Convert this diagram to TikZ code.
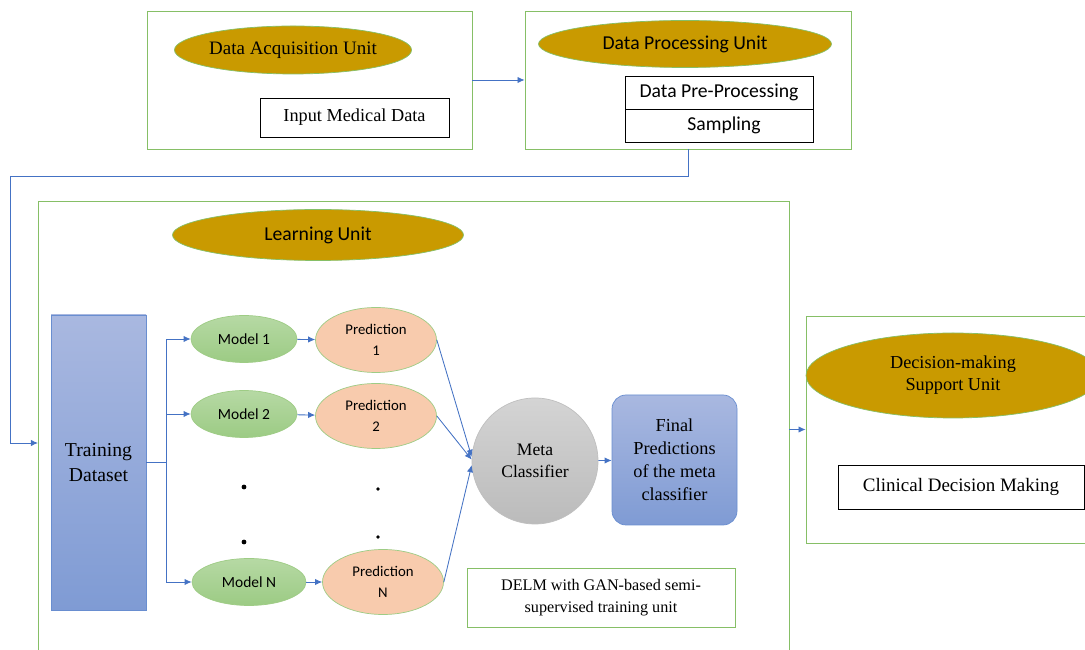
\documentclass[tikz,border=0pt]{standalone}
\usepackage{fontspec}
\setmainfont{Liberation Serif}
\newfontfamily\calibri{Carlito}
\usetikzlibrary{shapes.geometric,arrows.meta}

\definecolor{unitgreen}{HTML}{86BF66}
\definecolor{unitgold}{HTML}{C99A00}
\definecolor{linkblue}{HTML}{4472C4}
\definecolor{peach}{HTML}{F8CBAD}
\definecolor{modeltop}{HTML}{B6D9A4}
\definecolor{modelbot}{HTML}{9CCB84}
\definecolor{bluetop}{HTML}{A9B8E0}
\definecolor{bluebot}{HTML}{7F9BD4}
\definecolor{graytop}{HTML}{D4D4D4}
\definecolor{graybot}{HTML}{BBBBBB}

\tikzset{
  unitbox/.style={draw=unitgreen,line width=.6pt,fill=white,minimum width=#1},
  unittitle/.style={ellipse,draw=unitgreen,line width=.5pt,fill=unitgold,inner sep=0pt},
  plainbox/.style={draw=black,line width=.6pt,fill=white,inner sep=0pt},
  modelnode/.style={ellipse,draw=unitgreen!80,line width=.5pt,top color=modeltop,bottom color=modelbot,
    minimum height=1.175cm,inner sep=0pt,font=\calibri\fontsize{11}{13}\selectfont},
  prednode/.style={ellipse,draw=unitgreen!80,line width=.5pt,fill=peach,minimum width=3.025cm,
    minimum height=1.625cm,inner sep=0pt,align=center,font=\calibri\fontsize{10.5}{15}\selectfont},
  bluefill/.style={draw=linkblue!80,line width=.5pt,top color=bluetop,bottom color=bluebot},
  link/.style={draw=linkblue,line width=.6pt,-{Latex[length=5pt,width=4.5pt]}},
  pathline/.style={draw=linkblue,line width=.6pt},
}

\begin{document}
\begin{tikzpicture}
\useasboundingbox (0,0) rectangle (27.125,16.25);

% data acquisition unit
\node[unitbox=8.125cm,minimum height=3.45cm] (acq) at (7.7375,14.25) {};
\node[unittitle,minimum width=5.325cm,minimum height=1.2cm,font=\fontsize{13.5}{15}\selectfont] (acqtitle) at (7.325,15.0) {Data Acquisition Unit};
\node[plainbox,minimum width=4.725cm,minimum height=.975cm,font=\fontsize{13}{15}\selectfont] (input) at (8.8625,13.3125) {Input Medical Data};

% data processing unit
\node[unitbox=8.15cm,minimum height=3.45cm] (proc) at (17.2,14.25) {};
\node[unittitle,minimum width=7.325cm,minimum height=1.175cm,font=\calibri\fontsize{14}{16}\selectfont] (proctitle) at (17.125,15.15) {Data Processing Unit};
\node[plainbox,minimum width=4.7cm,minimum height=.825cm,font=\calibri\fontsize{14}{16}\selectfont] (prep) at (17.975,13.9375) {Data Pre-Processing};
\node[plainbox,minimum width=4.7cm,minimum height=.825cm,font=\calibri\fontsize{14}{16}\selectfont] (samp) at (17.975,13.1125) {\hspace{2.5mm}Sampling};

\draw[link] (acq.east) -- (proc.west);

% learning unit
\node[unitbox=18.775cm,minimum height=11.475cm] (learn) at (10.3375,5.4875) {};
\node[unittitle,minimum width=7.275cm,minimum height=1.275cm,font=\calibri\fontsize{14}{16}\selectfont] (learntitle) at (7.95,10.375) {Learning Unit};

\coordinate (turn) at (0.25,11.85);
\coordinate (learnin) at (0.95,5.175);
\draw[pathline] (proc.south) |- (turn);
\draw[link] (turn) |- (learnin);

\node[bluefill,minimum width=2.375cm,minimum height=7.375cm,align=center,inner sep=0pt,
  font=\fontsize{14}{17.5}\selectfont] (train) at (2.4625,4.6875) {Training\\Dataset};

\node[modelnode,minimum width=2.65cm] (m1) at (6.1,7.775) {Model 1};
\node[modelnode,minimum width=2.65cm] (m2) at (6.1,5.9) {Model 2};
\node[modelnode,minimum width=2.85cm] (mN) at (6.225,1.7) {Model N};

\node[prednode] (p1) at (9.4,7.75) {Prediction\\1};
\node[prednode] (p2) at (9.4,5.85) {Prediction\\2};
\node[prednode] (pN) at (9.575,1.7) {Prediction\\N};

% skipped models
\fill (6.1,4.075) circle (.06);
\fill (6.1,2.7) circle (.06);
\fill (9.45,4.025) circle (.045);
\fill (9.45,2.825) circle (.045);

\draw[pathline] (train.east) -- ++(.5,0) coordinate (fork);
\draw[link] (fork) |- (m1.west);
\draw[link] (fork) |- (m2.west);
\draw[link] (fork) |- (mN.west);
\draw[link] (m1) -- (p1);
\draw[link] (m2) -- (p2);
\draw[link] (mN) -- (pN);

\node[circle,draw=black!25,line width=.5pt,top color=graytop,bottom color=graybot,
  minimum size=3.15cm,inner sep=0pt,align=center,font=\fontsize{12.5}{16}\selectfont] (meta) at (13.375,4.725) {Meta\\Classifier};
\draw[link] (p1.east) -- ([yshift=3pt]meta.west);
\draw[link] (p2.east) -- ([yshift=1pt]meta.west);
\draw[link] (pN.east) -- ([yshift=-3pt]meta.west);

\node[bluefill,rounded corners=.35cm,minimum width=3.125cm,minimum height=3.25cm,align=center,inner sep=0pt,
  font=\fontsize{13}{16.4}\selectfont] (final) at (16.8625,4.75) {Final\\Predictions\\of the meta\\classifier};
\draw[link] (meta) -- (final);

\node[unitbox=6.7cm,minimum height=1.475cm,align=center,inner sep=0pt,font=\fontsize{11.5}{15.5}\selectfont] (delm) at (15.025,1.3125)
  {DELM with GAN-based semi-\\supervised training unit};

% decision-making support unit
\node[unitbox=7.35cm,minimum height=5.675cm] (dec) at (23.825,5.5125) {};
\node[unittitle,minimum width=7.35cm,minimum height=2.125cm,align=center,font=\fontsize{13}{15.6}\selectfont] (dectitle) at (23.825,6.8625) {Decision-making\\Support Unit};
\node[plainbox,minimum width=6.15cm,minimum height=1.1cm,font=\fontsize{13.5}{16}\selectfont] (clin) at (24.025,4.075) {Clinical Decision Making};

\draw[link] (learn.east |- dec.west) -- (dec.west);
\end{tikzpicture}
\end{document}
